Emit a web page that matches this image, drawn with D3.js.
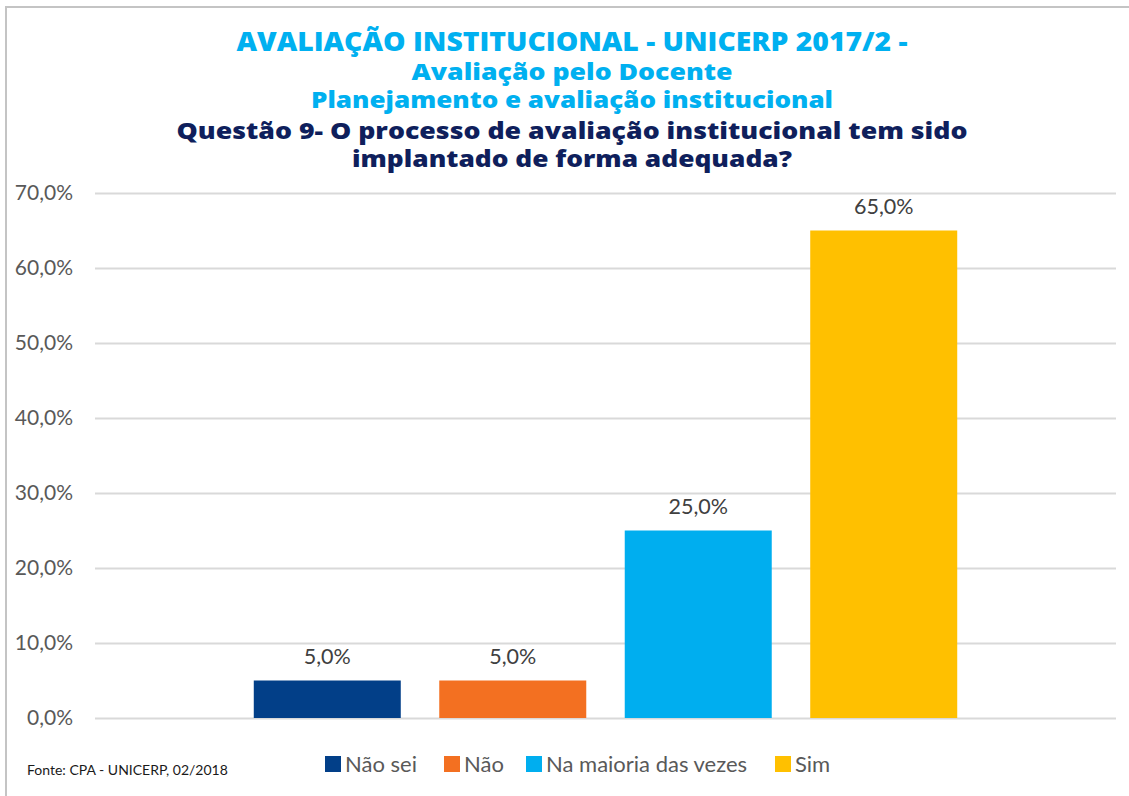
<!DOCTYPE html>
<html lang="pt">
<head>
<meta charset="UTF-8">
<title>Avaliação Institucional - UNICERP 2017/2</title>
<style>
  body { margin: 0; background: #fff; }
  svg { display: block; }
</style>
</head>
<body>
<svg width="1129" height="796"></svg>
<script src="https://cdnjs.cloudflare.com/ajax/libs/d3/7.8.5/d3.min.js"></script>
<script>
// dados do gráfico
const series = ['Não sei', 'Não', 'Na maioria das vezes', 'Sim'];
const values = [5.0, 5.0, 25.0, 65.0];
const colors = ['#023F88', '#F37021', '#00AEEF', '#FFC000'];
const yTicks = [0, 10, 20, 30, 40, 50, 60, 70];
const titleLines = [
  'AVALIAÇÃO INSTITUCIONAL - UNICERP 2017/2 -',
  'Avaliação pelo Docente',
  'Planejamento e avaliação institucional',
  'Questão 9- O processo de avaliação institucional tem sido',
  'implantado de forma adequada?'
];
const source = 'Fonte: CPA - UNICERP, 02/2018';

const svg = d3.select('svg');
const fmt = v => v.toFixed(1).replace('.', ',') + '%';
const FONT = 'Lato, "Open Sans", sans-serif';

// moldura
svg.append('path')
  .attr('d', 'M6,796 V7 H1129')
  .attr('fill', 'none')
  .attr('stroke', '#c4c4c4')
  .attr('stroke-width', 2);

// títulos (largura ajustada à do original)
const titleStyle = [
  { y: 51, size: 26, w: 671, color: '#00B0F0' },
  { y: 80, size: 23, w: 321, color: '#00B0F0' },
  { y: 108, size: 23, w: 522, color: '#00B0F0' },
  { y: 139, size: 23, w: 791, color: '#0F1F5C' },
  { y: 167, size: 23, w: 440, color: '#0F1F5C' }
];
svg.append('g').selectAll('text')
  .data(titleLines)
  .join('text')
  .attr('x', 572)
  .attr('y', (d, i) => titleStyle[i].y)
  .attr('text-anchor', 'middle')
  .attr('font-family', '"Open Sans", sans-serif')
  .attr('font-weight', 800)
  .attr('font-size', (d, i) => titleStyle[i].size)
  .attr('textLength', (d, i) => titleStyle[i].w)
  .attr('lengthAdjust', 'spacingAndGlyphs')
  .attr('fill', (d, i) => titleStyle[i].color)
  .text(d => d);

// escalas
const y = d3.scaleLinear().domain([0, 70]).range([718, 193]);
const x = d3.scaleBand()
  .domain(series)
  .range([95, 1116])
  .paddingInner(0.2075)
  .paddingOuter(0.856);

// grade
svg.append('g')
  .attr('transform', 'translate(95,0)')
  .call(d3.axisLeft(y).tickValues(yTicks).tickSize(-(1116 - 95)).tickFormat(''))
  .call(g => g.select('.domain').remove())
  .call(g => g.selectAll('line').attr('stroke', '#d9d9d9').attr('stroke-width', 2));

// eixo y rótulos
svg.append('g')
  .attr('transform', 'translate(73,0)')
  .call(d3.axisLeft(y).tickValues(yTicks).tickSize(0).tickPadding(0).tickFormat(fmt))
  .call(g => g.select('.domain').remove())
  .call(g => g.selectAll('text')
    .attr('font-family', FONT)
    .attr('font-size', 21)
    .attr('fill', '#595959'));

// barras
svg.append('g').selectAll('rect')
  .data(series)
  .join('rect')
  .attr('x', d => x(d))
  .attr('width', x.bandwidth())
  .attr('y', (d, i) => y(values[i]))
  .attr('height', (d, i) => y(0) - y(values[i]))
  .attr('fill', (d, i) => colors[i]);

// rótulos de dados
svg.append('g').selectAll('text')
  .data(series)
  .join('text')
  .attr('x', d => x(d) + x.bandwidth() / 2)
  .attr('y', (d, i) => y(values[i]) - 17)
  .attr('text-anchor', 'middle')
  .attr('font-family', FONT)
  .attr('font-size', 21.5)
  .attr('fill', '#404040')
  .text((d, i) => fmt(values[i]));

// legenda
const legendX = [325, 444, 526, 775];
const legend = svg.append('g').selectAll('g')
  .data(series)
  .join('g')
  .attr('transform', (d, i) => `translate(${legendX[i]},756)`);
legend.append('rect')
  .attr('width', 16)
  .attr('height', 16)
  .attr('fill', (d, i) => colors[i]);
legend.append('text')
  .attr('x', 20)
  .attr('y', 16)
  .attr('font-family', FONT)
  .attr('font-size', 22)
  .attr('fill', '#595959')
  .text(d => d);

// fonte
svg.append('text')
  .attr('x', 27)
  .attr('y', 775)
  .attr('font-family', FONT)
  .attr('font-size', 14)
  .attr('fill', '#1a1a1a')
  .text(source);
</script>
</body>
</html>
